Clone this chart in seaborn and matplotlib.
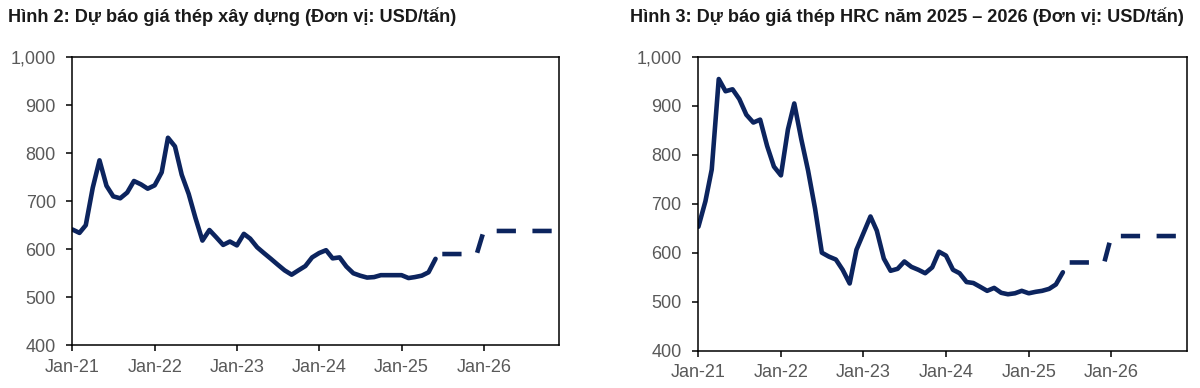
import pandas as pd
import matplotlib
matplotlib.use("Agg")
import matplotlib.pyplot as plt
import matplotlib.dates as mdates
from matplotlib.ticker import FuncFormatter
import seaborn as sns

"""## Data (USD/ton, monthly from Jan-21)"""

# construction steel - actual prices
rebar_actual = [641, 634, 650, 728, 785, 732, 710, 706, 718, 742, 735, 726,
                733, 760, 832, 814, 755, 715, 665, 618, 640, 625, 609, 616,
                608, 632, 622, 604, 592, 580, 568, 556, 547, 556, 565, 583,
                592, 598, 581, 583, 564, 550, 545, 541, 542, 546, 546, 546,
                546, 540, 542, 545, 552, 580]
# construction steel - forecast
rebar_fc_dates = ["2025-07-01", "2025-12-01", "2026-01-01", "2026-12-01"]
rebar_fc = [590, 590, 638, 638]

# HRC - actual prices
hrc_actual = [653, 705, 770, 955, 930, 934, 914, 882, 866, 872, 818, 776,
              758, 852, 905, 832, 768, 690, 600, 592, 586, 565, 537, 606,
              640, 674, 645, 588, 563, 567, 582, 571, 565, 558, 570, 602,
              594, 565, 558, 540, 538, 530, 522, 528, 518, 515, 517, 522,
              517, 520, 522, 526, 535, 560]
# HRC - forecast
hrc_fc_dates = ["2025-07-01", "2025-12-01", "2026-01-01", "2026-12-01"]
hrc_fc = [580, 580, 634, 634]

titles = ["Hình 2: Dự báo giá thép xây dựng (Đơn vị: USD/tấn)",
          "Hình 3: Dự báo giá thép HRC năm 2025 – 2026 (Đơn vị: USD/tấn)"]
y_ticks = [400, 500, 600, 700, 800, 900, 1000]
x_start, x_end = "2021-01-01", "2026-12-01"

"""## Plot"""

sns.set_style("white")
plt.rcParams['font.family'] = ['Liberation Sans', 'DejaVu Sans']

navy = "#0c245e"
grey = "#595959"

fig = plt.figure(figsize=(12, 3.88), dpi=100)
ax1 = fig.add_axes([0.0604, 0.110, 0.4054, 0.743])
ax2 = fig.add_axes([0.582, 0.0966, 0.407, 0.7565])

series = [(ax1, rebar_actual, rebar_fc_dates, rebar_fc),
          (ax2, hrc_actual, hrc_fc_dates, hrc_fc)]

for ax, actual, fc_dates, fc in series:
    dates = pd.date_range(x_start, periods=len(actual), freq="MS")
    sns.lineplot(x=dates, y=actual, ax=ax, color=navy, linewidth=3.3,
                 solid_capstyle="round", solid_joinstyle="round")
    sns.lineplot(x=pd.to_datetime(fc_dates), y=fc, ax=ax, color=navy,
                 linewidth=3.3, linestyle=(0, (4.2, 3.6)), dash_capstyle="butt")

    ax.set_xlim(pd.Timestamp(x_start), pd.Timestamp(x_end))
    ax.set_ylim(400, 1000)
    ax.set_yticks(y_ticks)
    ax.yaxis.set_major_formatter(FuncFormatter(lambda v, p: f"{v:,.0f}"))
    ax.xaxis.set_major_locator(mdates.YearLocator())
    ax.xaxis.set_major_formatter(mdates.DateFormatter("%b-%y"))
    ax.set_xlabel("")
    ax.set_ylabel("")

    ax.tick_params(axis="both", direction="out", length=4, width=1.1,
                   color="black", labelsize=13, labelcolor=grey, left=True,
                   bottom=True)
    ax.tick_params(axis="y", pad=8)
    ax.tick_params(axis="x", pad=6)
    for s in ax.spines.values():
        s.set_visible(True)
        s.set_color("black")
        s.set_linewidth(1.1)

fig.text(8.5 / 1200, 1 - 21.7 / 388, titles[0], fontsize=13.1, fontweight="bold",
         va="baseline", ha="left", color="#1a1a1a")
fig.text(630.5 / 1200, 1 - 21.7 / 388, titles[1], fontsize=13.1, fontweight="bold",
         va="baseline", ha="left", color="#1a1a1a")

fig.savefig("out.png", dpi=100)
